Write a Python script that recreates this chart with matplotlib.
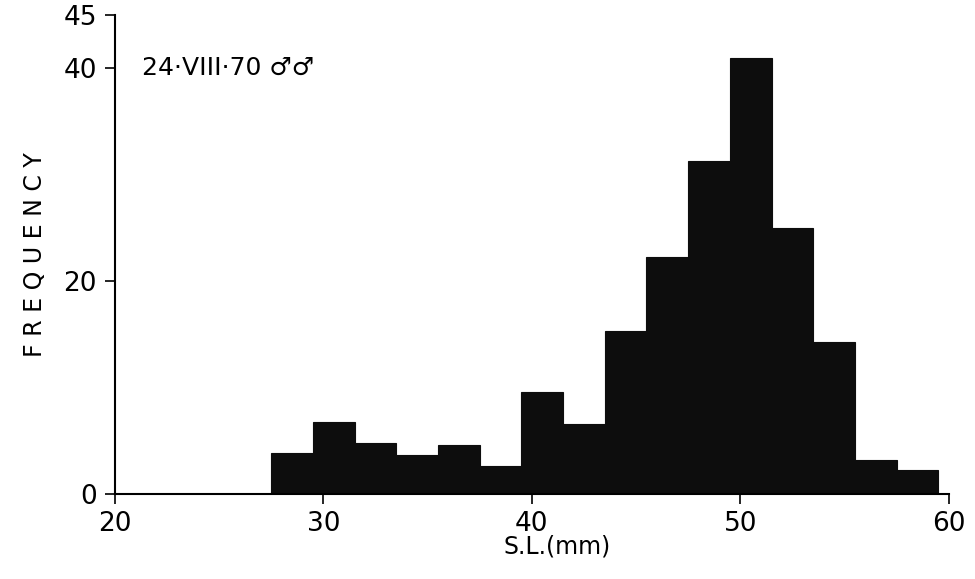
import matplotlib.pyplot as plt
import numpy as np

# standard length bins (mm), 2 mm classes
bin_edges = [27.5, 29.5, 31.5, 33.5, 35.5, 37.5, 39.5, 41.5, 43.5,
             45.5, 47.5, 49.5, 51.5, 53.5, 55.5, 57.5, 59.5]
freq = [3.8, 6.8, 4.8, 3.7, 4.6, 2.6, 9.6, 6.6,
        15.3, 22.3, 31.3, 41.0, 25.0, 14.3, 3.2, 2.2]
xticks = [20, 30, 40, 50, 60]
yticks = [0, 20, 40, 45]

plt.rcParams['font.family'] = ['DejaVu Sans']

fig = plt.figure(figsize=(9.75, 5.79), dpi=100)
ax = fig.add_axes([0.118, 0.147, 0.855, 0.827])

left = np.array(bin_edges[:-1])
widths = np.diff(bin_edges)
ax.bar(left, freq, width=widths, align='edge', color='#0d0d0d',
       edgecolor='#0d0d0d', linewidth=0.8)

ax.set_xlim(20, 60)
ax.set_ylim(0, 45)
ax.set_xticks(xticks)
ax.set_yticks(yticks)
ax.tick_params(axis='both', direction='out', length=7, width=1.2,
               labelsize=19, colors='black')
ax.tick_params(axis='x', pad=5)
ax.tick_params(axis='y', pad=6)

for s in ['top', 'right']:
    ax.spines[s].set_visible(False)
ax.spines['left'].set_linewidth(1.5)
ax.spines['bottom'].set_linewidth(1.5)

ax.set_xlabel('S.L.(mm)', fontsize=17, labelpad=2)
ax.xaxis.set_label_coords(0.53, -0.085)
ax.set_ylabel('F R E Q U E N C Y', fontsize=17, labelpad=12)

ax.text(21.3, 40, '24\u00b7VIII\u00b770 \u2642\u2642', fontsize=18,
        va='center', ha='left')

fig.savefig('out.png', dpi=100)
